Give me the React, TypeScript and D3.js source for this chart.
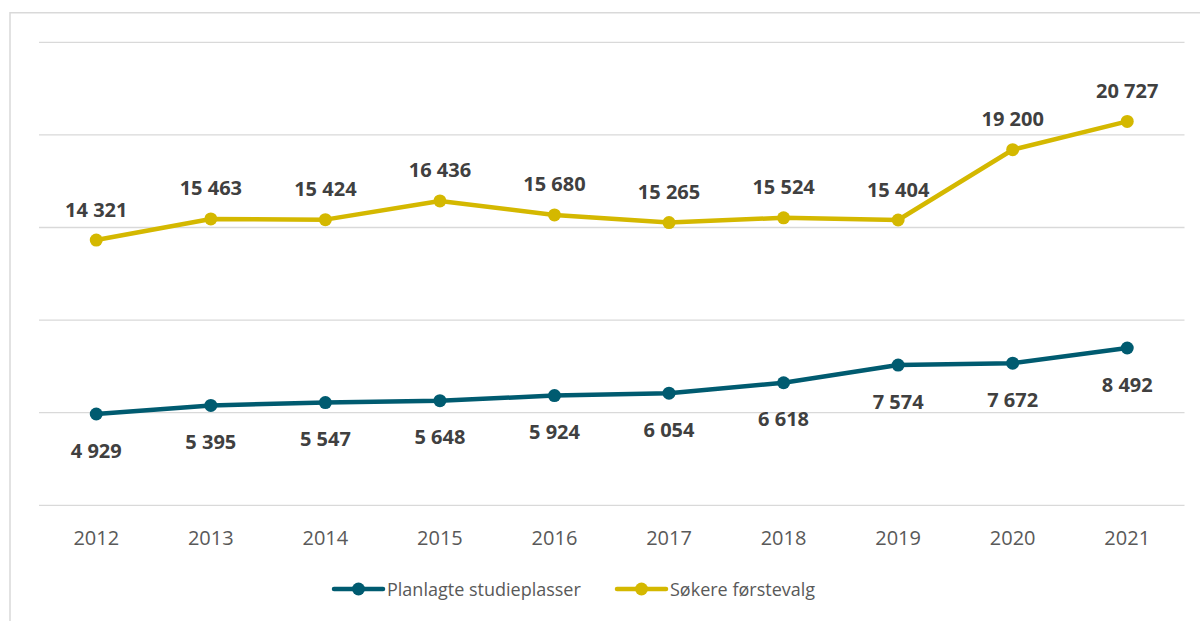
import React from "react";
import * as d3 from "d3";

const years = ["2012","2013","2014","2015","2016","2017","2018","2019","2020","2021"];
const planlagte = [4929, 5395, 5547, 5648, 5924, 6054, 6618, 7574, 7672, 8492];
const sokere = [14321, 15463, 15424, 16436, 15680, 15265, 15524, 15404, 19200, 20727];
const yTicks = [0, 5000, 10000, 15000, 20000, 25000];

const W = 1200, H = 621;
const TEAL = "#005b70";
const GOLD = "#d4b800";
const fmt = (v: number) => d3.format(",")(v).replace(/,/g, " ");

export default function App() {
  const x = d3.scaleBand<string>().domain(years).range([39, 1184.5]);
  const y = d3.scaleLinear().domain([0, 25000]).range([505.3, 42.3]);
  const cx = (yr: string) => (x(yr) as number) + x.bandwidth() / 2;
  const line = d3.line<number>().x((_, i) => cx(years[i])).y((d) => y(d));
  const font = "'Open Sans', sans-serif";

  const series = [
    { name: "Planlagte studieplasser", data: planlagte, color: TEAL, dy: 36 },
    { name: "Søkere førstevalg", data: sokere, color: GOLD, dy: -31 },
  ];
  const legendX = [334, 617];

  return (
    <div style={{ position: "absolute", left: 0, top: 0 }}>
      <svg width={W} height={H} style={{ display: "block", background: "#fff" }}>
        <path d={`M10,${H} V12.7 H${W}`} fill="none" stroke="#d9d9d9" strokeWidth={1.5} />
        {yTicks.map((t) => (
          <line key={t} x1={39} x2={1184.5} y1={y(t)} y2={y(t)} stroke="#d9d9d9" strokeWidth={1.3} />
        ))}
        {years.map((yr) => (
          <text key={yr} x={cx(yr)} y={537} textAnchor="middle" dominantBaseline="central"
            fontFamily={font} fontSize={20} fill="#595959">{yr}</text>
        ))}
        {series.map((s) => (
          <g key={s.name}>
            <path d={line(s.data) as string} fill="none" stroke={s.color} strokeWidth={4.5} strokeLinejoin="round" />
            {s.data.map((v, i) => (
              <circle key={i} cx={cx(years[i])} cy={y(v)} r={6.5} fill={s.color} />
            ))}
            {s.data.map((v, i) => (
              <text key={"t" + i} x={cx(years[i])} y={y(v) + s.dy} textAnchor="middle" dominantBaseline="central"
                fontFamily={font} fontWeight={700} fontSize={20} fill="#404040">{fmt(v)}</text>
            ))}
          </g>
        ))}
        {series.map((s, i) => (
          <g key={"l" + s.name}>
            <line x1={legendX[i]} x2={legendX[i] + 49} y1={589} y2={589} stroke={s.color} strokeWidth={4.5} strokeLinecap="round" />
            <circle cx={legendX[i] + 24.5} cy={589} r={6.5} fill={s.color} />
            <text x={legendX[i] + 53} y={589} dominantBaseline="central" fontFamily={font} fontSize={18} fill="#595959">{s.name}</text>
          </g>
        ))}
      </svg>
    </div>
  );
}
